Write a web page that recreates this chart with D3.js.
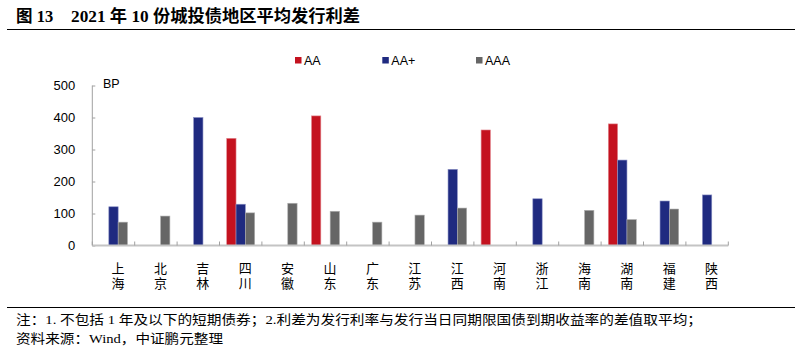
<!DOCTYPE html>
<html><head><meta charset="utf-8">
<script src="https://cdn.jsdelivr.net/npm/d3@7"></script>
<style>
html,body{margin:0;padding:0;background:#fff;}
svg{display:block;}
</style></head>
<body>
<svg id="c" width="802" height="349"></svg>
<script>
const categories = ["上海","北京","吉林","四川","安徽","山东","广东","江苏","江西","河南","浙江","海南","湖南","福建","陕西"];
const seriesNames = ["AA","AA+","AAA"];
const valuesAA  = [null,null,null,335,null,405,null,null,null,361,null,null,380,null,null];
const valuesAAp = [121,null,400,129,null,null,null,null,238,null,146,null,267,139,158];
const valuesAAA = [73,92,null,102,132,107,73,95,117,null,null,110,81,114,null];
const yTicks = [0,100,200,300,400,500];
const colors = ["#C4121F","#1F2A80","#666666"];
const strokes = ["#e38a92","#8a90c4","#b0b0b0"];

(function(){
const svg = d3.select("#c");
const pl = 92.3, pr = 728.3, pt = 85.5, pb = 245.5;

const x = d3.scaleBand().domain(categories).range([pl, pr]).padding(0);
const bw = x.bandwidth();
const x1 = d3.scaleBand().domain(seriesNames).range([bw/2 - 14, bw/2 + 14]).padding(0);
const y = d3.scaleLinear().domain([0, 500]).range([pb, pt]);

// Title
const title = svg.append("text").attr("y", 22).attr("font-weight", "bold")
  .attr("font-family", "'Liberation Serif','Noto Sans CJK SC',serif").attr("font-size", 16.5).attr("fill", "#000");
title.append("tspan").attr("x", 16).text("图 13");
title.append("tspan").attr("x", 71).attr("textLength", 289).attr("lengthAdjust", "spacingAndGlyphs").text("2021 年 10 份城投债地区平均发行利差");
svg.append("line").attr("x1", 7).attr("x2", 795).attr("y1", 29.5).attr("y2", 29.5).attr("stroke", "#000").attr("stroke-width", 1.2);

// Legend
const legX = [295, 382.3, 476];
seriesNames.forEach((s, i) => {
  svg.append("rect").attr("x", legX[i]).attr("y", 57).attr("width", 6.5).attr("height", 6.5).attr("fill", colors[i]);
  svg.append("text").attr("x", legX[i] + 9).attr("y", 64.5).attr("font-family", "'Liberation Sans Narrow','Liberation Sans',Arial,sans-serif")
    .attr("font-size", 12.5).attr("fill", "#000").text(s);
});

// Y axis
const yAxis = d3.axisLeft(y).tickValues(yTicks).tickSize(-3).tickPadding(17);
const gy = svg.append("g").attr("transform", `translate(${pl},0)`).call(yAxis);
gy.select(".domain").attr("stroke", "#a0a0a0").attr("d", `M0,${pt}V${pb}`);
gy.selectAll(".tick line").attr("stroke", "#a0a0a0");
gy.selectAll(".tick text").attr("font-family", "'Liberation Sans',Arial,sans-serif").attr("font-size", 13).attr("fill", "#000");

svg.append("text").attr("x", 103).attr("y", 88).attr("font-family", "'Liberation Sans',Arial,sans-serif")
  .attr("font-size", 12.5).attr("fill", "#000").text("BP");

// Bars
const allVals = [valuesAA, valuesAAp, valuesAAA];
const g = svg.append("g");
seriesNames.forEach((s, si) => {
  categories.forEach((c, ci) => {
    const v = allVals[si][ci];
    if (v == null) return;
    g.append("rect")
      .attr("x", x(c) + x1(s))
      .attr("y", y(v))
      .attr("width", x1.bandwidth())
      .attr("height", y(0) - y(v))
      .attr("fill", colors[si])
      .attr("stroke", strokes[si]).attr("stroke-width", 0.6);
  });
});

// X axis
const xAxis = d3.axisBottom(x).tickSize(0).tickFormat("");
const gx = svg.append("g").attr("transform", `translate(0,${pb})`).call(xAxis);
gx.select(".domain").attr("stroke", "#c4c4c4").attr("stroke-width", 2).attr("d", `M${pl},0H${pr}`);
const boundaries = categories.map(c => x(c)).concat([pr]);
gx.selectAll(".btick").data(boundaries).enter().append("line")
  .attr("x1", d => d).attr("x2", d => d).attr("y1", -4).attr("y2", 0)
  .attr("stroke", "#a0a0a0").attr("stroke-width", 1);

// Category labels (vertical text)
categories.forEach(c => {
  const cx = x(c) + bw/2 + 4.5;
  svg.append("text").attr("x", cx).attr("y", 262)
    .style("writing-mode", "vertical-rl").style("letter-spacing", "1.5px")
    .attr("font-family", "'Noto Sans CJK SC',sans-serif").attr("font-size", 13).attr("fill", "#000").text(c);
});

// Footer
svg.append("line").attr("x1", 7).attr("x2", 795).attr("y1", 307.5).attr("y2", 307.5).attr("stroke", "#000").attr("stroke-width", 1.2);
svg.append("text").attr("x", 16).attr("y", 324).attr("font-family", "'Liberation Serif','Noto Sans CJK SC',serif")
  .attr("font-size", 13).attr("fill", "#000").attr("textLength", 686).attr("lengthAdjust", "spacingAndGlyphs")
  .text("注：1. 不包括 1 年及以下的短期债券；2.利差为发行利率与发行当日同期限国债到期收益率的差值取平均；");
svg.append("text").attr("x", 16).attr("y", 343).attr("font-family", "'Liberation Serif','Noto Sans CJK SC',serif")
  .attr("font-size", 13).attr("fill", "#000").attr("textLength", 207).attr("lengthAdjust", "spacingAndGlyphs")
  .text("资料来源：Wind，中证鹏元整理");
})();
</script>
</body></html>
